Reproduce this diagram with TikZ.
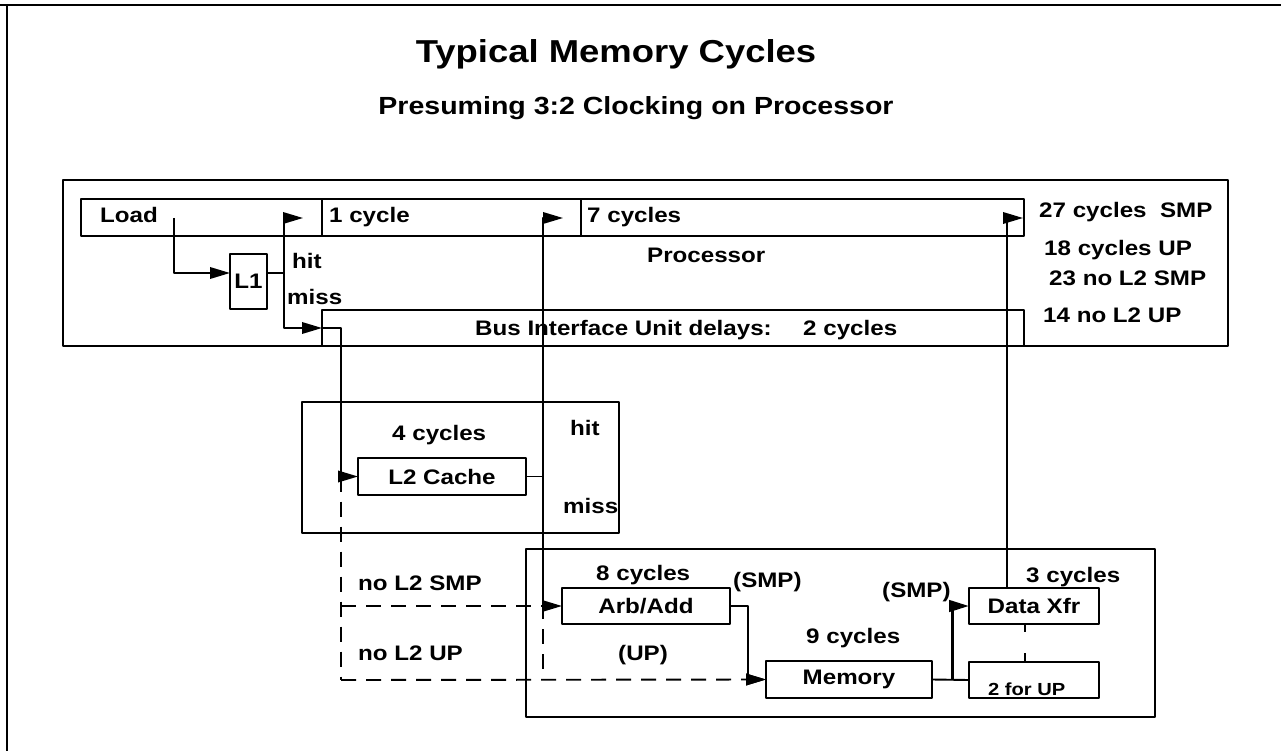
\documentclass[tikz,border=0pt]{standalone}
\usepackage{fontspec}
\setmainfont{Liberation Sans}[FakeStretch=1.15]
\usetikzlibrary{arrows.meta}
\newcommand\lblfont{\bfseries\fontsize{21}{25}\selectfont}
\newcommand\smallfont{\bfseries\fontsize{17.5}{21}\selectfont}
\tikzset{
  box/.style={draw, line width=2pt, anchor=north west, inner sep=0pt, outer sep=0pt, font=\lblfont},
  lbl/.style={anchor=base west, inner sep=0pt, font=\lblfont},
  conn/.style={line width=1.9pt},
  arr/.style={conn, -{Triangle[length=20pt,width=11.5pt]}},
  nol2line/.style={conn, dash pattern=on 15pt off 10pt},
}
\begin{document}
\begin{tikzpicture}[x=1pt, y=-1pt, line join=round]
				\useasboundingbox (0,0) rectangle (1281,751);
				\draw[line width=1.5pt] (0,5) -- (1281,5);
				\draw[line width=1.5pt] (7,5) -- (7,751);
				
				\node[anchor=base, font=\bfseries\fontsize{31.7}{36}\selectfont] (title) at (616,63) {Typical Memory Cycles};
				\node[anchor=base, font=\bfseries\fontsize{24.8}{29}\selectfont] (subtitle) at (636,115) {Presuming 3:2 Clocking on Processor};
				
				% processor
				\node[box, line width=2.5pt, minimum width=1165pt, minimum height=166pt] (proc) at (63,180) {};
				\node[box, minimum width=241pt, minimum height=37pt] (cell0) at (81,199) {};
				\node[box, minimum width=259pt, minimum height=37pt] (cell1) at (322,199) {};
				\node[box, minimum width=443pt, minimum height=37pt] (cell2) at (581,199) {};
				\node[box, minimum width=702pt, minimum height=36pt] (biu) at (322,310) {};
				\node[box, minimum width=37pt, minimum height=55pt] (l1) at (230,254) {L1};
				
				% L2
				\node[box, line width=2.8pt, minimum width=317pt, minimum height=131pt] (l2box) at (302,402) {};
				\node[box, minimum width=168pt, minimum height=37pt] (l2c) at (358,458) {L2 Cache};
				
				% memory side
				\node[box, line width=1.2pt, minimum width=629pt, minimum height=168pt] (sysbox) at (526,549) {};
				\node[box, minimum width=168pt, minimum height=36pt] (arb) at (562,588) {Arb/Add};
				\node[box, minimum width=166pt, minimum height=37pt] (mem) at (766,661) {Memory};
				\node[box, minimum width=130pt, minimum height=36pt] (xfr) at (969,588) {Data Xfr};
				\node[box, minimum width=130pt, minimum height=36pt] (upx) at (969,662) {};
				
				\coordinate (loadout) at (174,218);
				\coordinate (l1fork) at (284,273);
				\coordinate (hittip) at (303,218);
				\coordinate (c1tip) at (563,218);
				\coordinate (c7tip) at (1023,218);
				\coordinate (l2bus) at (543,476.5);
				\coordinate (missbus) at (341,328);
				\coordinate (nol2) at (341,680);
				\coordinate (memfork) at (952,679.5);
				\coordinate (xfrup) at (1007,588);
				
				\draw[arr] (loadout) |- (l1.west |- l1fork);
				\draw[conn] (l1.east |- l1fork) -- (l1fork);
				\draw[arr] (l1fork) |- (hittip);
				\draw[arr] (l1fork) |- (biu.west);
				\draw[arr] (biu.west) -- (missbus) |- (l2c.west);
				\draw[conn] (l2c.east) -- (l2bus);
				\draw[arr] (l2bus) |- (c1tip);
				\draw[arr] (l2bus) |- (arb.west);
				\draw[arr] (arb.east) -- ++(18,0) |- (mem.west);
				\draw[conn] (mem.east) -- (upx.west);
				\draw[arr, line width=3pt] (memfork) |- (xfr.west);
				\draw[arr] (xfrup) |- (c7tip);
				
				\draw[nol2line] (missbus |- l2c.west) -- (nol2);
				\draw[nol2line] (missbus |- arb.west) -- (l2bus |- arb.west) -- (l2bus |- nol2);
				\draw[nol2line, -{Triangle[length=20pt,width=11.5pt]}] (nol2) -- (mem.west);
				\draw[conn, dash pattern=on 8pt off 21pt] ([xshift=-9pt]xfr.south) -- ([xshift=-9pt]upx.north);
				
				\node[lbl] (load) at (100,223) {Load};
				\node[lbl] (cyc1) at (329,223) {1 cycle};
				\node[lbl] (cyc7) at (587,223) {7 cycles};
				\node[lbl] (hit1) at (292,268) {hit};
				\node[lbl] (miss1) at (287,304) {miss};
				\node[lbl] (proclbl) at (647,262) {Processor};
				\node[lbl, anchor=base east] (biulbl) at (772,335) {Bus Interface Unit delays:};
				\node[lbl] (biucyc) at (803,335) {2 cycles};
				\node[lbl] (tot1) at (1039,218) {27 cycles\ \ SMP};
				\node[lbl] (tot2) at (1044,255) {18 cycles UP};
				\node[lbl] (tot3) at (1049,285) {23 no L2 SMP};
				\node[lbl] (tot4) at (1043,322) {14 no L2 UP};
				\node[lbl] (l2cyc) at (392,440) {4 cycles};
				\node[lbl] (hit2) at (570,435) {hit};
				\node[lbl] (miss2) at (563,513) {miss};
				\node[lbl] (nol2smp) at (358,590) {no L2 SMP};
				\node[lbl] (nol2up) at (358,660) {no L2 UP};
				\node[lbl] (arbcyc) at (596,580) {8 cycles};
				\node[lbl] (smp1) at (733,587) {(SMP)};
				\node[lbl] (up1) at (618,660) {(UP)};
				\node[lbl] (memcyc) at (806,643) {9 cycles};
				\node[lbl] (smp2) at (882,597) {(SMP)};
				\node[lbl] (xfrcyc) at (1026,582) {3 cycles};
				\node[lbl, font=\smallfont] (uplbl) at (988,695) {2 for UP};
			\end{tikzpicture}
\end{document}
